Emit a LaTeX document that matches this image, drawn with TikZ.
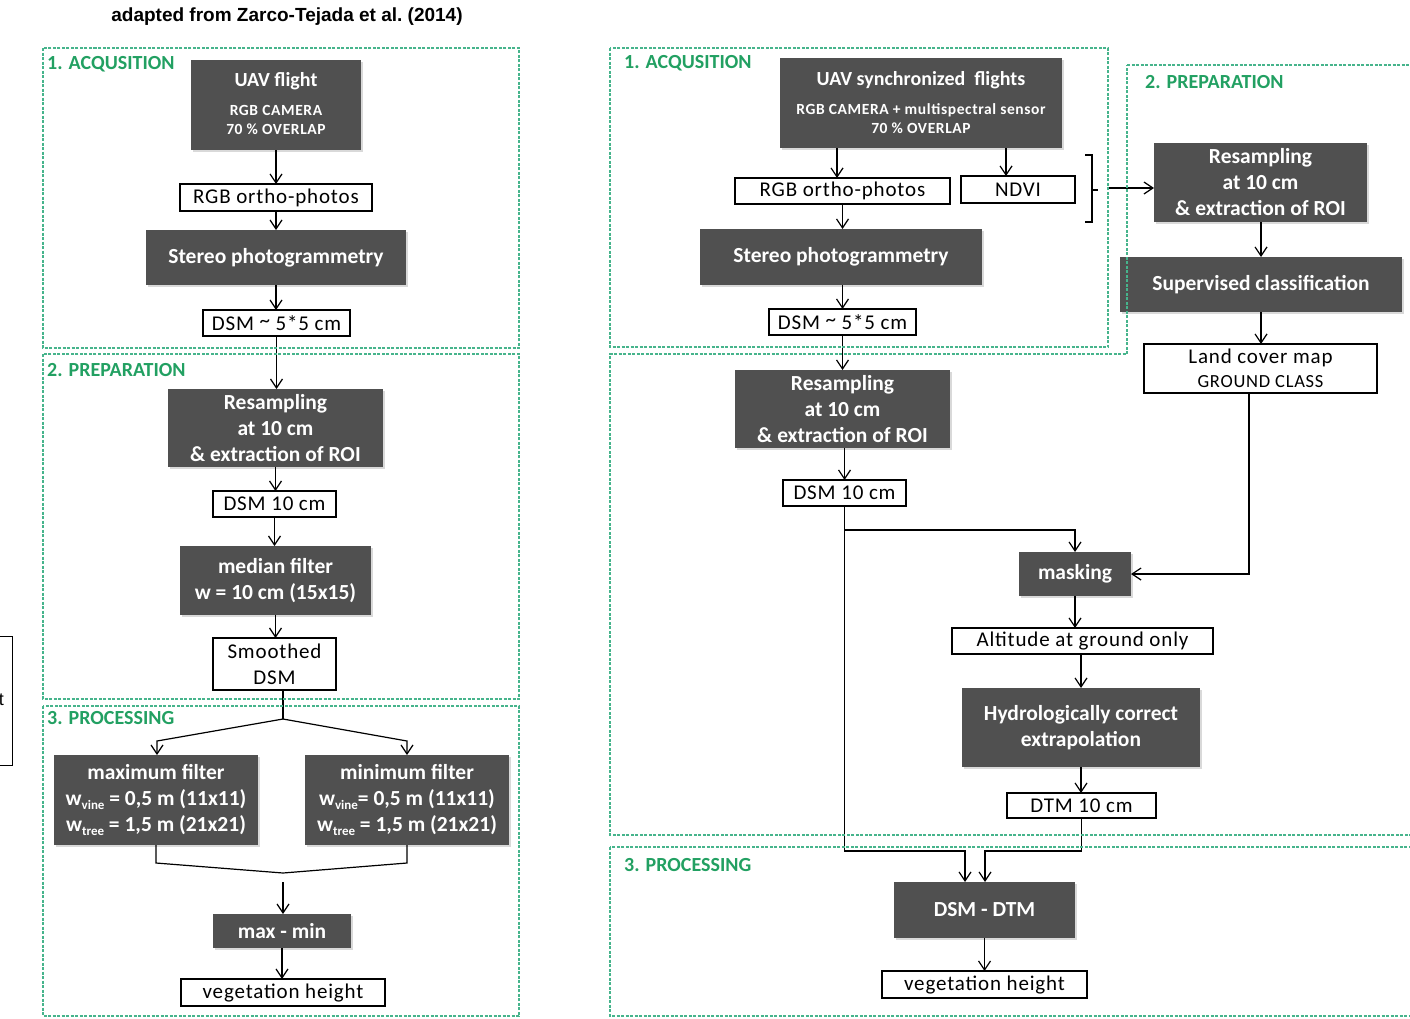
\documentclass[tikz,border=0pt]{standalone}
\usepackage{fontspec}
\setmainfont{Carlito}
\newfontfamily\spacedfont[LetterSpace=4]{Carlito}
\newfontfamily\titlefont{Liberation Sans}
\usetikzlibrary{arrows.meta,shadows,calc}
\definecolor{boxgray}{RGB}{80,80,80}
\definecolor{labgreen}{RGB}{34,160,98}
\definecolor{dashgreen}{RGB}{70,180,140}
\newcommand\mysub[1]{\raisebox{-4pt}{\fontsize{13}{13}\selectfont #1}}
\newcommand\mytilde{\raisebox{3pt}{\textasciitilde}}
\newcommand\bx[7]{%
  \pgfmathsetmacro\bxcx{(#3+#5)/2}%
  \pgfmathsetmacro\bxcy{(#4+#6)/2}%
  \pgfmathsetmacro\bxw{#5-#3}%
  \pgfmathsetmacro\bxh{#6-#4}%
  \node[#2, minimum width=\bxw pt, minimum height=\bxh pt] (#1) at (\bxcx,\bxcy) {#7};}
\begin{document}
\begin{tikzpicture}[x=1pt,y=-1pt,
  darkbox/.style={fill=boxgray,text=white,inner sep=0pt,outer sep=0pt,align=center,
    font=\fontsize{21.5}{26}\selectfont\bfseries,
    drop shadow={shadow xshift=2pt,shadow yshift=-2pt,opacity=0.3}},
  whitebox/.style={draw=black,line width=1.3pt,fill=white,inner sep=0pt,outer sep=0pt,
    align=center,font=\spacedfont\fontsize{21}{26}\selectfont},
  sect/.style={draw=dashgreen,line width=1.1pt,dash pattern=on 3pt off 1.5pt},
  seclabel/.style={text=labgreen,font=\fontsize{20}{22}\selectfont\bfseries,anchor=west,inner sep=0pt},
  arr/.style={line width=1.2pt,-{Straight Barb[length=9pt,width=12pt,line width=1.2pt]}},
  ln/.style={line width=1.2pt},
  subtxt/.style={text=white,font=\spacedfont\fontsize{15.5}{19}\selectfont\bfseries,align=center,inner sep=0pt},
  ttl/.style={text=white,font=\fontsize{20}{21}\selectfont\bfseries,inner sep=0pt},
]
\useasboundingbox (0,0) rectangle (1410,1018);

% title and fragment
\node[font=\titlefont\bfseries\fontsize{19}{21}\selectfont,inner sep=0pt] (title) at (287,17) {adapted\ from Zarco-Tejada\ et\ al.\ (2014)};
\draw[line width=1pt] (-5,636) -- (12,636) -- (12,765) -- (-5,765);
\node[font=\titlefont\fontsize{18}{20}\selectfont,anchor=east,inner sep=0pt] (frag) at (4,700) {t};

% ---------- left panel ----------
\bx{uavA}{darkbox}{191}{60}{361}{150}{}
\node[ttl] (uavAt) at (276,81) {UAV flight};
\node[subtxt] (uavAs) at (276,120) {RGB CAMERA\\70 \% OVERLAP};
\bx{rgbA}{whitebox}{180}{184}{372}{211}{RGB ortho-photos}
\bx{stA}{darkbox}{146}{230}{406}{285}{Stereo photogrammetry}
\bx{dsmA}{whitebox}{203}{310}{350}{336}{DSM \mytilde{} 5*5 cm}
\bx{resA}{darkbox}{168}{389}{383}{467}{Resampling\\at 10 cm\\\& extraction of ROI}
\bx{dtenA}{whitebox}{213}{491}{336}{517}{DSM 10 cm}
\bx{medA}{darkbox}{180}{546}{371}{615}{median filter\\w = 10 cm (15x15)}
\bx{smA}{whitebox}{213}{638}{336}{690}{Smoothed\\DSM}
\bx{maxA}{darkbox}{54}{755}{258}{845}{maximum filter\\w\mysub{vine} = 0,5 m (11x11)\\w\mysub{tree} = 1,5 m (21x21)}
\bx{minA}{darkbox}{305}{755}{509}{845}{minimum filter\\w\mysub{vine}= 0,5 m (11x11)\\w\mysub{tree} = 1,5 m (21x21)}
\bx{mmA}{darkbox}{213}{914}{351}{948}{max - min}
\bx{vegA}{whitebox}{181}{979}{385}{1006}{vegetation height}

\draw[arr] (uavA.south) -- (uavA.south |- rgbA.north);
\draw[arr] (rgbA.south) -- (rgbA.south |- stA.north);
\draw[arr] (stA.south) -- (stA.south |- dsmA.north);
\draw[arr] (dsmA.south) -- (dsmA.south |- resA.north);
\draw[arr] (resA.south) -- (resA.south |- dtenA.north);
\draw[arr] (dtenA.south) -- (dtenA.south |- medA.north);
\draw[arr] (medA.south) -- (medA.south |- smA.north);
\coordinate (splitA) at (283,719);
\coordinate (lA) at (157,741);
\coordinate (rA) at (407,741);
\draw[ln] (smA.south -| splitA) -- (splitA);
\draw[arr] (splitA) -- (lA) -- (lA |- maxA.north);
\draw[arr] (splitA) -- (rA) -- (rA |- minA.north);
\coordinate (mA) at (283,873);
\coordinate (mA2) at (283,882);
\draw[ln] (maxA.south) -- ++(0,18) -- (mA) -- (407,863) -- (minA.south);
\draw[arr] (mA2) -- (mA2 |- mmA.north);
\draw[arr] (mmA.south) -- (mmA.south |- vegA.north);

\draw[sect] (43,48) rectangle (519,348);
\draw[sect] (43,354) rectangle (519,699);
\draw[sect] (43,706) rectangle (519,1016);
\node[seclabel] (labA1) at (47,64) {1. ACQUSITION};
\node[seclabel] (labA2) at (47,370) {2. PREPARATION};
\node[seclabel] (labA3) at (47,718) {3. PROCESSING};

% ---------- right panel ----------
\bx{uavB}{darkbox}{780}{58}{1062}{148}{}
\node[ttl] (uavBt) at (921,80) {UAV synchronized\ \ flights};
\node[subtxt] (uavBs) at (921,119) {RGB CAMERA + multispectral sensor\\70 \% OVERLAP};
\bx{rgbB}{whitebox}{735}{178}{950}{204}{RGB ortho-photos}
\bx{ndvi}{whitebox}{961}{176}{1075}{203}{NDVI}
\bx{stB}{darkbox}{700}{229}{982}{285}{Stereo photogrammetry}
\bx{dsmB}{whitebox}{769}{309}{916}{335}{DSM \mytilde{} 5*5 cm}
\bx{resB}{darkbox}{735}{370}{950}{448}{Resampling\\at 10 cm\\\& extraction of ROI}
\bx{dtenB}{whitebox}{783}{480}{906}{506}{DSM 10 cm}
\bx{resC}{darkbox}{1154}{143}{1367}{222}{Resampling\\at 10 cm\\\& extraction of ROI}
\bx{sup}{darkbox}{1120}{257}{1402}{312}{Supervised classification}
\bx{land}{whitebox}{1144}{344}{1377}{393}{Land cover map\\[-2pt]{\fontsize{18.5}{18.5}\selectfont GROUND CLASS}}
\bx{mask}{darkbox}{1019}{552}{1131}{596}{masking}
\bx{alt}{whitebox}{952}{628}{1213}{654}{Altitude at ground only}
\bx{hyd}{darkbox}{962}{688}{1200}{767}{Hydrologically correct\\extrapolation}
\bx{dtm}{whitebox}{1007}{793}{1156}{818}{DTM 10 cm}
\bx{dd}{darkbox}{894}{882}{1075}{938}{DSM - DTM}
\bx{vegB}{whitebox}{882}{971}{1087}{998}{vegetation height}

\coordinate (xa) at (837,0);
\coordinate (xb) at (1006,0);
\draw[arr] (uavB.south -| xa) -- (rgbB.north -| xa);
\draw[arr] (uavB.south -| xb) -- (ndvi.north -| xb);
\draw[arr] (rgbB.south) -- (rgbB.south |- stB.north);
\draw[arr] (stB.south -| dsmB.north) -- (dsmB.north);
\draw[arr] (dsmB.south) -- (dsmB.south |- resB.north);
\draw[arr] (resB.south -| dtenB.north) -- (dtenB.north);
\draw[ln] (1085,155) -- (1092,155) -- (1092,222) -- (1085,222);
\draw[ln] (1092,190) -- (1098,190);
\coordinate (brA) at (1109,188);
\draw[arr] (brA) -- (brA -| resC.west);
\draw[arr] (resC.south -| sup.north) -- (sup.north);
\draw[arr] (sup.south) -- (sup.south |- land.north);
\coordinate (landturn) at (1249,574);
\draw[arr] (land.south -| landturn) -- (landturn) -- (mask.east);
\coordinate (brB) at (845,530);
\draw[arr] (dtenB.south |- brB) -- (brB -| mask.north) -- (mask.north);
\coordinate (jA) at (965,851);
\coordinate (jB) at (985,851);
\draw[arr] (dtenB.south) -- (dtenB.south |- jA) -- (jA) -- (jA |- dd.north);
\draw[arr] (dtm.south) -- (dtm.south |- jB) -- (jB) -- (jB |- dd.north);
\draw[arr] (mask.south) -- (mask.south |- alt.north);
\draw[arr] (alt.south -| hyd.north) -- (hyd.north);
\draw[arr] (hyd.south) -- (hyd.south |- dtm.north);
\draw[arr] (dd.south) -- (dd.south |- vegB.north);

\draw[sect] (610,48) rectangle (1108,347);
\draw[sect] (1127,65) -- (1420,65) -- (1420,835) -- (610,835) -- (610,354) -- (1127,354) -- cycle;
\draw[sect] (610,847) rectangle (1420,1016);
\node[seclabel] (labB1) at (624,63) {1. ACQUSITION};
\node[seclabel] (labB2) at (1145,82) {2. PREPARATION};
\node[seclabel] (labB3) at (624,865) {3. PROCESSING};
\end{tikzpicture}
\end{document}
